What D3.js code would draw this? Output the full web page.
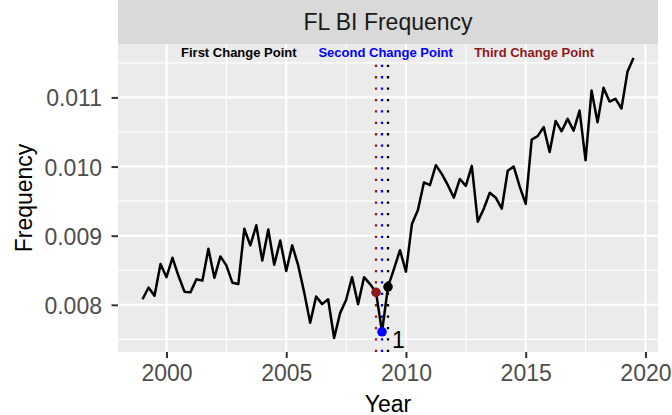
<!DOCTYPE html>
<html>
<head>
<meta charset="utf-8">
<script src="https://cdn.jsdelivr.net/npm/d3@7"></script>
<style>
  html, body { margin: 0; padding: 0; background: #ffffff; }
  svg { display: block; font-family: "Liberation Sans", Arial, Helvetica, sans-serif; }
</style>
</head>
<body>
<svg id="chart" width="672" height="415"></svg>
<script>
// ---- data ----
const years = [
  1999.00, 1999.25, 1999.50, 1999.75,
  2000.00, 2000.25, 2000.50, 2000.75,
  2001.00, 2001.25, 2001.50, 2001.75,
  2002.00, 2002.25, 2002.50, 2002.75,
  2003.00, 2003.25, 2003.50, 2003.75,
  2004.00, 2004.25, 2004.50, 2004.75,
  2005.00, 2005.25, 2005.50, 2005.75,
  2006.00, 2006.25, 2006.50, 2006.75,
  2007.00, 2007.25, 2007.50, 2007.75,
  2008.00, 2008.25, 2008.50, 2008.75,
  2009.00, 2009.25, 2009.50, 2009.75,
  2010.00, 2010.25, 2010.50, 2010.75,
  2011.00, 2011.25, 2011.50, 2011.75,
  2012.00, 2012.25, 2012.50, 2012.75,
  2013.00, 2013.25, 2013.50, 2013.75,
  2014.00, 2014.25, 2014.50, 2014.75,
  2015.00, 2015.25, 2015.50, 2015.75,
  2016.00, 2016.25, 2016.50, 2016.75,
  2017.00, 2017.25, 2017.50, 2017.75,
  2018.00, 2018.25, 2018.50, 2018.75,
  2019.00, 2019.25, 2019.50
];
const frequency = [
  0.00808, 0.00825, 0.00813, 0.00859,
  0.00840, 0.00868, 0.00842, 0.00819,
  0.00818, 0.00837, 0.00835, 0.00881,
  0.00839, 0.00870, 0.00857, 0.00832,
  0.00830, 0.00910, 0.00886, 0.00915,
  0.00864, 0.00909, 0.00858, 0.00893,
  0.00849, 0.00886, 0.00857, 0.00818,
  0.00774, 0.00812, 0.00801, 0.00808,
  0.00752, 0.00788, 0.00807, 0.00840,
  0.00801, 0.00840, 0.00830, 0.00818,
  0.00761, 0.00826, 0.00852, 0.00879,
  0.00848, 0.00917, 0.00937, 0.00977,
  0.00973, 0.01002, 0.00989, 0.00973,
  0.00955, 0.00982, 0.00972, 0.01001,
  0.00920, 0.00939, 0.00962, 0.00955,
  0.00939, 0.00994, 0.01000, 0.00971,
  0.00946, 0.01039, 0.01044, 0.01057,
  0.01021, 0.01066, 0.01051, 0.01069,
  0.01052, 0.01081, 0.01009, 0.01110,
  0.01064, 0.01114, 0.01094, 0.01098,
  0.01084, 0.01137, 0.01157
];
const changePointNames = ["First Change Point", "Second Change Point", "Third Change Point"];
const changePointYears = [2009.25, 2009.00, 2008.75];
const changePointColors = ["#000000", "#0000FF", "#8B1A1A"];
const changePointLabelYears = [2003.02, 2009.15, 2015.35];
const xTicks = [2000, 2005, 2010, 2015, 2020];
const xMinor = [2002.5, 2007.5, 2012.5, 2017.5];
const yTicks = [0.008, 0.009, 0.010, 0.011];
const yMinor = [0.0075, 0.0085, 0.0095, 0.0105, 0.0115];
const stripTitle = "FL BI Frequency";
const xTitle = "Year";
const yTitle = "Frequency";
const pointLabel = "1";

// ---- layout ----
const W = 672, H = 415;
const panel = { left: 118, top: 44, right: 658, bottom: 352 };
const svg = d3.select("#chart");

const xExt = d3.extent(years), yExt = d3.extent(frequency);
const xPad = (xExt[1] - xExt[0]) * 0.05, yPad = (yExt[1] - yExt[0]) * 0.05;
const x = d3.scaleLinear().domain([xExt[0] - xPad, xExt[1] + xPad]).range([panel.left, panel.right]);
const y = d3.scaleLinear().domain([yExt[0] - yPad, yExt[1] + yPad]).range([panel.bottom, panel.top]);

// strip
svg.append("rect").attr("x", panel.left).attr("y", 0)
  .attr("width", panel.right - panel.left).attr("height", panel.top).attr("fill", "#D9D9D9");
svg.append("text").attr("x", (panel.left + panel.right) / 2).attr("y", 29.5)
  .attr("text-anchor", "middle").attr("font-size", 23).attr("fill", "#1A1A1A").text(stripTitle);

// panel background
svg.append("rect").attr("x", panel.left).attr("y", panel.top)
  .attr("width", panel.right - panel.left).attr("height", panel.bottom - panel.top).attr("fill", "#EBEBEB");

const grid = svg.append("g");
grid.selectAll(".xminor").data(xMinor).enter().append("line")
  .attr("x1", d => x(d)).attr("x2", d => x(d)).attr("y1", panel.top).attr("y2", panel.bottom)
  .attr("stroke", "#FFFFFF").attr("stroke-width", 1.1);
grid.selectAll(".yminor").data(yMinor).enter().append("line")
  .attr("y1", d => y(d)).attr("y2", d => y(d)).attr("x1", panel.left).attr("x2", panel.right)
  .attr("stroke", "#FFFFFF").attr("stroke-width", 1.1);
grid.selectAll(".xmajor").data(xTicks).enter().append("line")
  .attr("x1", d => x(d)).attr("x2", d => x(d)).attr("y1", panel.top).attr("y2", panel.bottom)
  .attr("stroke", "#FFFFFF").attr("stroke-width", 2.1);
grid.selectAll(".ymajor").data(yTicks).enter().append("line")
  .attr("y1", d => y(d)).attr("y2", d => y(d)).attr("x1", panel.left).attr("x2", panel.right)
  .attr("stroke", "#FFFFFF").attr("stroke-width", 2.1);

// change point vertical dotted lines
const cpData = changePointYears.map((yr, i) => ({
  year: yr, name: changePointNames[i], color: changePointColors[i],
  labelYear: changePointLabelYears[i],
  value: frequency[years.indexOf(yr)]
}));
svg.append("g").selectAll("line").data(cpData).enter().append("line")
  .attr("x1", d => x(d.year)).attr("x2", d => x(d.year))
  .attr("y1", panel.bottom).attr("y2", y(d3.max(frequency)))
  .attr("stroke", d => d.color).attr("stroke-width", 2.3)
  .attr("stroke-dasharray", "2.3 9.1");

// header labels
svg.append("g").selectAll("text").data(cpData).enter().append("text")
  .attr("x", d => x(d.labelYear)).attr("y", panel.top + 13.3)
  .attr("text-anchor", "middle").attr("font-size", 13).attr("font-weight", "bold")
  .attr("fill", d => d.color).text(d => d.name);

// series line
const series = years.map((yr, i) => ({ year: yr, value: frequency[i] }));
svg.append("path").datum(series)
  .attr("d", d3.line().x(d => x(d.year)).y(d => y(d.value)))
  .attr("fill", "none").attr("stroke", "#000000").attr("stroke-width", 2.5)
  .attr("stroke-linejoin", "round").attr("stroke-linecap", "butt");

// change points
svg.append("g").selectAll("circle").data(cpData).enter().append("circle")
  .attr("cx", d => x(d.year)).attr("cy", d => y(d.value)).attr("r", 4.8)
  .attr("fill", d => d.color);

// label "1" near the lowest change point
const second = cpData[1];
svg.append("text").attr("x", x(second.year) + 16.5).attr("y", y(second.value) + 16.5)
  .attr("text-anchor", "middle").attr("font-size", 23).attr("fill", "#000000").text(pointLabel);

// axes
const xAxis = svg.append("g").attr("transform", `translate(0,${panel.bottom})`)
  .call(d3.axisBottom(x).tickValues(xTicks).tickFormat(d3.format("d")).tickSize(6).tickSizeOuter(0).tickPadding(6.5));
const yAxis = svg.append("g").attr("transform", `translate(${panel.left},0)`)
  .call(d3.axisLeft(y).tickValues(yTicks).tickFormat(d3.format(".3f")).tickSize(6.5).tickSizeOuter(0).tickPadding(9.5));
[xAxis, yAxis].forEach(g => {
  g.select(".domain").remove();
  g.selectAll(".tick line").attr("stroke", "#333333").attr("stroke-width", 2);
  g.selectAll(".tick text").attr("fill", "#4D4D4D").attr("font-size", 23)
    .attr("font-family", "'Liberation Sans', Arial, Helvetica, sans-serif");
});
yAxis.selectAll(".tick text").attr("dy", "0.37em");

// axis titles
svg.append("text").attr("x", (panel.left + panel.right) / 2).attr("y", 411.5)
  .attr("text-anchor", "middle").attr("font-size", 23).attr("fill", "#000000").text(xTitle);
svg.append("text").attr("transform", `translate(31.5,${(panel.top + panel.bottom) / 2}) rotate(-90)`)
  .attr("text-anchor", "middle").attr("font-size", 23).attr("fill", "#000000").text(yTitle);
</script>
</body>
</html>
